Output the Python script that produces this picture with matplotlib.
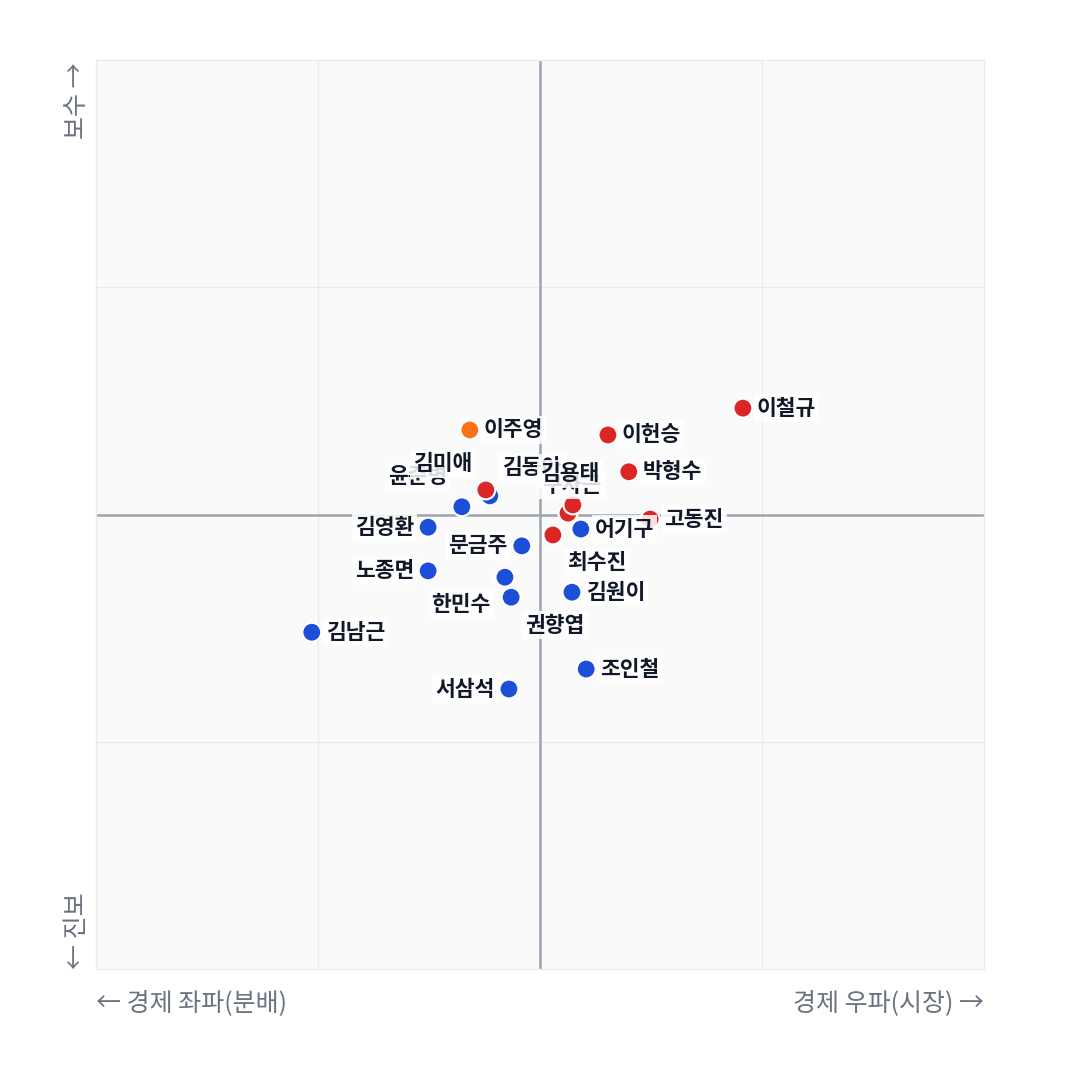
import matplotlib.pyplot as plt

plt.rcParams['font.family'] = ['Noto Sans CJK KR', 'DejaVu Sans']

# 의원별 경제(x) / 사회(y) 성향 좌표, -1 ~ 1
names = ['이철규', '이헌승', '이주영', '박형수', '고동진', '어기구', '윤준병',
         '김동아', '김미애', '구자근', '김용태', '최수진', '김영환', '문금주',
         '노종면', '한민수', '권향엽', '김원이', '김남근', '조인철', '서삼석']
x_vals = [0.457, 0.153, -0.158, 0.200, 0.248, 0.092, -0.176,
          -0.113, -0.122, 0.063, 0.074, 0.029, -0.252, -0.041,
          -0.252, -0.079, -0.065, 0.072, -0.514, 0.104, -0.070]
y_vals = [0.234, 0.175, 0.186, 0.094, -0.010, -0.032, 0.017,
          0.041, 0.054, 0.003, 0.021, -0.045, -0.028, -0.069,
          -0.124, -0.138, -0.182, -0.171, -0.259, -0.340, -0.384]
party = ['ppp', 'ppp', 'rebuild', 'ppp', 'ppp', 'dem', 'dem',
         'dem', 'ppp', 'ppp', 'ppp', 'ppp', 'dem', 'dem',
         'dem', 'dem', 'dem', 'dem', 'dem', 'dem', 'dem']

party_colors = {'ppp': '#dc2626', 'dem': '#1d4ed8', 'rebuild': '#f97316'}

# label placement (pixel offsets from the point)
RIGHT = (14, 0, 'left')
LEFT = (-14, 0, 'right')
label_pos = {
    '김영환': LEFT, '문금주': LEFT, '노종면': LEFT, '서삼석': LEFT,
    '김미애': (-43, 26, 'center'), '김동아': (42, 28, 'center'),
    '윤준병': (-44, 30, 'center'), '김용태': (-3, 31, 'center'),
    '구자근': (4, 28, 'center'), '최수진': (44, -28, 'center'),
    '한민수': (-44, -27, 'center'), '권향엽': (44, -28, 'center'),
}

fig = plt.figure(figsize=(10.8, 10.8), dpi=100)
ax = fig.add_axes([96 / 1080, 1 - 969 / 1080, 888 / 1080, 909 / 1080])
ax.set_facecolor('#fafafa')
ax.set_xlim(-1, 1)
ax.set_ylim(-1, 1)
for s in ax.spines.values():
    s.set_color('#ececec')
    s.set_linewidth(1)
ax.set_xticks([])
ax.set_yticks([])

for v in (-0.5, 0.5):
    ax.axvline(v, color='#ebebeb', lw=1, zorder=1)
    ax.axhline(v, color='#ebebeb', lw=1, zorder=1)
ax.axvline(0, color='#9ca3af', lw=1.8, zorder=2)
ax.axhline(0, color='#9ca3af', lw=1.8, zorder=2)

ax.scatter(x_vals, y_vals, s=185, c=[party_colors[p] for p in party],
           edgecolors='white', linewidths=1.5, zorder=3)

for i, name in enumerate(names):
    dx, dy, ha = label_pos.get(name, RIGHT)
    ax.annotate(name, (x_vals[i], y_vals[i]), xytext=(dx, dy),
                textcoords='offset pixels', ha=ha, va='center',
                fontsize=15.5, fontweight='bold', color='#111827', zorder=4,
                bbox=dict(boxstyle='square,pad=0.15', fc='white', ec='none', alpha=0.85))

gray = '#6b7280'
fam = ['Noto Sans CJK KR', 'DejaVu Sans']
fig.text(96 / 1080, 1 - 1003 / 1080, '← 경제 좌파(분배)', ha='left', va='center',
         fontsize=18, color=gray, family=fam)
fig.text(984 / 1080, 1 - 1003 / 1080, '경제 우파(시장) →', ha='right', va='center',
         fontsize=18, color=gray, family=fam)
fig.text(77 / 1080, 1 - 62 / 1080, '보수 →', rotation=90, ha='center', va='top',
         fontsize=18, color=gray, family=fam)
fig.text(77 / 1080, 1 - 969 / 1080, '← 진보', rotation=90, ha='center', va='bottom',
         fontsize=18, color=gray, family=fam)

fig.savefig('out.png', dpi=100, facecolor='white')
